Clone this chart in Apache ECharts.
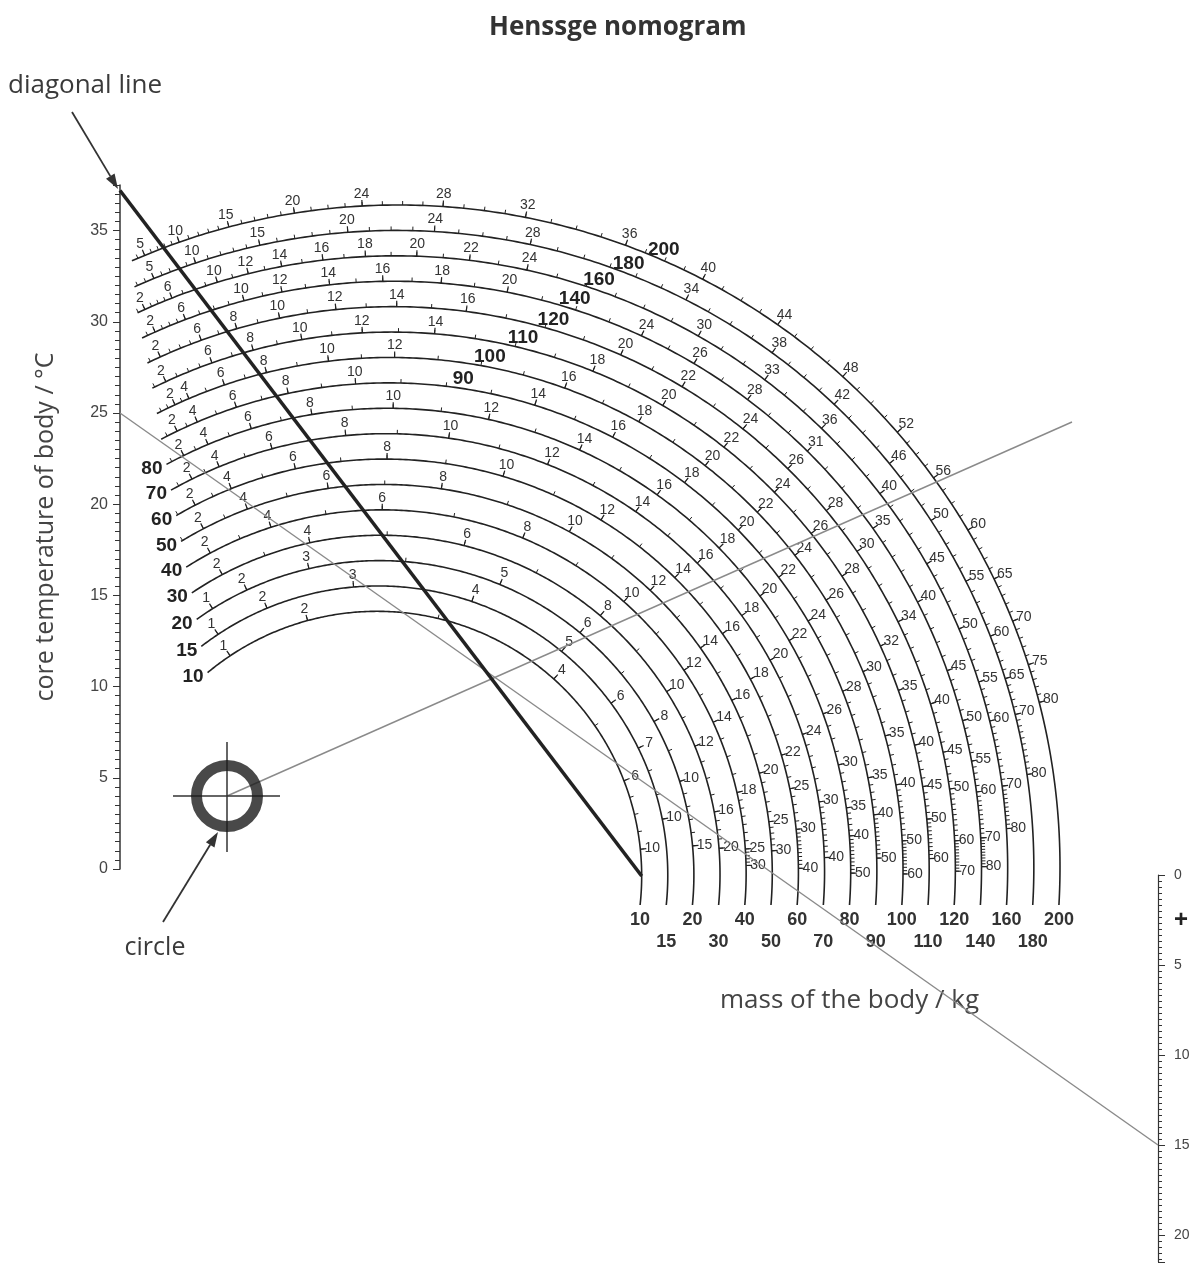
<!DOCTYPE html>
<html lang="en">
<head>
    <meta charset="UTF-8">
    <title>Henssge nomogram</title>
    <script src="https://cdn.jsdelivr.net/npm/echarts@6/dist/echarts.min.js"></script>
    <style>
        *{
            margin: 0;
            padding: 0;
        }
        body{
            background-color: #fff;
            overflow: hidden;
        }
        #main{
            width: 1193px;
            height: 1263px;
        }
    </style>
</head>
<body>
<div id="main"></div>

<script>
    // body mass of each arc (kg)
    var masses = [10, 15, 20, 30, 40, 50, 60, 70, 80, 90, 100, 110, 120, 140, 160, 180, 200];
    // angle (deg) where each arc begins on the left side
    var arcStart = [129.8, 127.7, 125.6, 123.9, 122.6, 121.4, 120.3, 119.4, 118.5, 117.8, 117.05, 116.4, 115.85, 115.4, 114.9, 114.3, 113.7];
    // angle of the bold mass label sitting on the arc (90 kg and up)
    var massLabelAngle = [null, null, null, null, null, null, null, null, null, 81.4, 79.0, 76.1, 73.7, 72.4, 70.9, 69.0, 66.7];

    // hour marks along each arc: [hours, angle deg]
    var h10 = [[1, 123.7], [2, 105.2], [4, 48.1], [6, 21.1], [10, 5.8]];
    var h15 = [[1, 123.6], [2, 112.6], [3, 94.9], [4, 71.15], [5, 50.7], [6, 36.5], [7, 26.1], [10, 11.2]];
    var h20 = [[1, 122.1], [2, 115.0], [3, 103.0], [5, 67.5], [6, 50.4], [8, 29.2], [10, 17.3], [15, 5.3]];
    var h30 = [[2, 117.9], [4, 102.1], [6, 75.8], [8, 49.7], [10, 32.6], [12, 22.2], [16, 10.6], [20, 4.4]];
    var h40 = [[2, 118.2], [4, 107.8], [6, 90.0], [8, 67.3], [10, 48.4], [12, 34.0], [14, 24.6], [18, 12.9], [25, 3.9], [30, 1.3]];
    var h50 = [[2, 117.6], [4, 110.5], [6, 98.2], [8, 81.45], [10, 61.45], [12, 46.7], [14, 35.4], [16, 26.4], [20, 14.9], [25, 7.6], [30, 3.3]];
    var h60 = [[2, 117.3], [4, 111.8], [6, 102.5], [8, 89.7], [10, 73.4], [12, 58.5], [14, 45.5], [16, 35.3], [18, 27.9], [22, 16.5], [25, 11.7], [30, 6.0], [40, 0.6]];
    var h70 = [[2, 116.3], [4, 112.4], [6, 105.1], [8, 95.3], [10, 81.8], [12, 68.4], [14, 55.3], [16, 44.8], [18, 35.8], [20, 28.9], [24, 18.3], [30, 9.2], [40, 1.9]];
    var h80 = [[2, 116.1], [4, 112.8], [6, 107.1], [8, 99.4], [10, 89.3], [12, 77.4], [14, 65.5], [16, 54.4], [18, 44.3], [20, 36.5], [22, 29.9], [26, 19.9], [30, 13.3], [35, 7.9], [40, 4.4], [50, -0.2]];
    var h90 = [[2, 115.7], [4, 113.1], [6, 108.2], [8, 101.9], [10, 93.9], [14, 72.6], [16, 62.7], [18, 52.7], [20, 44.3], [22, 37.0], [24, 30.8], [28, 21.6], [35, 11.0], [40, 6.6], [50, 1.5]];
    var h100 = [[2, 114.8], [4, 113.1], [6, 108.85], [8, 103.95], [10, 96.9], [12, 89.5], [16, 70.1], [18, 61.0], [20, 52.1], [22, 44.3], [24, 37.9], [26, 31.8], [30, 22.8], [35, 15.2], [40, 9.6], [50, 3.3], [60, -0.4]];
    var h110 = [[2, 114.8], [6, 109.5], [8, 104.9], [10, 99.6], [12, 93.1], [14, 85.4], [18, 68.0], [20, 59.7], [22, 51.8], [24, 44.6], [26, 38.7], [28, 33.1], [32, 24.6], [35, 19.5], [40, 13.4], [45, 8.9], [50, 5.4], [60, 1.2]];
    var h120 = [[2, 114.4], [6, 109.9], [8, 106.1], [10, 101.6], [12, 95.8], [14, 89.6], [16, 82.5], [20, 66.1], [22, 59.05], [24, 51.5], [26, 45.4], [28, 39.6], [30, 34.4], [34, 26.1], [40, 17.1], [45, 12.0], [50, 8.2], [60, 2.9], [70, -0.2]];
    var h140 = [[2, 114.0], [6, 110.8], [10, 104.8], [12, 101.0], [14, 96.3], [16, 91.1], [18, 85.4], [20, 78.9], [24, 65.1], [26, 59.3], [28, 53.0], [31, 45.3], [35, 35.4], [40, 27.0], [45, 19.7], [50, 14.6], [55, 10.55], [60, 7.5], [70, 3.0], [80, 0.2]];
    var h160 = [[2, 114.15], [6, 111.4], [10, 106.9], [12, 103.9], [14, 100.7], [16, 96.8], [18, 92.8], [20, 88.0], [22, 83.05], [24, 77.6], [30, 60.35], [33, 52.9], [36, 45.9], [40, 37.7], [45, 29.8], [50, 23.0], [55, 17.7], [60, 13.9], [70, 7.7], [80, 3.7]];
    var h180 = [[5, 112.4], [10, 108.4], [15, 102.4], [20, 94.4], [24, 86.6], [28, 77.9], [34, 63.0], [38, 53.9], [42, 46.65], [46, 39.35], [50, 33.0], [55, 26.7], [60, 21.3], [65, 17.25], [70, 13.9], [80, 8.4]];
    var h200 = [[5, 112.5], [10, 109.3], [15, 104.8], [20, 99.0], [24, 93.1], [28, 86.1], [32, 78.9], [36, 69.9], [40, 62.6], [44, 55.0], [48, 47.8], [52, 41.05], [56, 36.0], [60, 30.6], [65, 25.8], [70, 21.8], [75, 17.8], [80, 14.4]];
    var hourMarks = [h10, h15, h20, h30, h40, h50, h60, h70, h80, h90, h100, h110, h120, h140, h160, h180, h200];

    // readings used for the example lines
    var tempTop = 37.2;     // diagonal line starts here
    var tempRead = 25;      // grey reading line, temperature end
    var rightRead = 15;     // grey reading line, right scale end
    var plusAt = 2.5;       // "+" mark on the right scale

    var W = 1193, H = 1263;
    var BASE_Y = 905;        // arcs run down to here
    var TEMP_X = 120, RIGHT_X = 1158;
    var circleAt = [227, 796];
    var FONT = '"Liberation Sans", Arial, sans-serif';

    var chart = echarts.init(document.getElementById('main'));

    var hidden = {show: false};
    chart.setOption({
        backgroundColor: '#fff',
        animation: false,
        title: {
            text: 'Henssge nomogram',
            left: 484,
            top: 10,
            textStyle: {fontSize: 26, fontWeight: 'bold', color: '#333', fontFamily: '"Open Sans"'}
        },
        grid: [
            {left: 0, top: 0, width: W, height: H},
            {left: TEMP_X, top: 185, width: 10, height: 684},
            {left: 627, top: 860, width: 445, height: 48},
            {left: RIGHT_X, top: 875, width: 30, height: 387}
        ],
        xAxis: [
            {gridIndex: 0, type: 'value', min: 0, max: W, show: false},
            {gridIndex: 1, type: 'value', show: false},
            {
                gridIndex: 2, type: 'category', data: masses.map(String), boundaryGap: true,
                axisLine: hidden, axisTick: hidden, splitLine: hidden,
                axisLabel: {
                    interval: 0, margin: 1, fontSize: 18, fontWeight: 'bold', color: '#333',
                    fontFamily: FONT, lineHeight: 22,
                    formatter: function (v, idx) { return idx % 2 ? '\n' + v : v; }
                },
                name: 'mass of the body / kg', nameLocation: 'middle', nameGap: 80,
                nameTextStyle: {fontSize: 26, color: '#444', fontFamily: '"Open Sans"'}
            },
            {gridIndex: 3, type: 'value', show: false}
        ],
        yAxis: [
            {gridIndex: 0, type: 'value', min: 0, max: H, inverse: true, show: false},
            {
                gridIndex: 1, type: 'value', min: 0, max: 37.5, interval: 5, position: 'left',
                axisLine: {show: true, lineStyle: {color: '#333', width: 1.5}},
                axisTick: {show: true, length: 7, lineStyle: {color: '#333'}},
                minorTick: {show: true, splitNumber: 10, length: 5, lineStyle: {color: '#333'}},
                splitLine: hidden,
                axisLabel: {color: '#444', fontSize: 16, margin: 12, fontFamily: FONT, showMaxLabel: false},
                name: 'core temperature of body / °C', nameLocation: 'middle', nameGap: 62, nameRotate: 90,
                nameTextStyle: {fontSize: 25, color: '#444', fontFamily: '"Open Sans"'}
            },
            {gridIndex: 2, type: 'value', show: false},
            {
                gridIndex: 3, type: 'value', min: 0, max: 21.5, interval: 5, inverse: true, position: 'left',
                axisLine: {show: true, lineStyle: {color: '#333', width: 1.2}},
                axisTick: {show: true, inside: true, length: 7, lineStyle: {color: '#333'}},
                minorTick: {show: true, splitNumber: 15, length: 4, lineStyle: {color: '#333'}},
                splitLine: hidden,
                axisLabel: {inside: true, margin: 16, color: '#444', fontSize: 14, fontFamily: FONT, showMaxLabel: false}
            }
        ]
    });

    // arc geometry from the mass scale
    var centers = masses.map(function (m, i) {
        var t = i / (masses.length - 1);
        return [377 + 21 * t, 876 - 9 * t];
    });
    var radii = masses.map(function (m, i) {
        var px = chart.convertToPixel({xAxisIndex: 2}, i);
        return Math.hypot(px - centers[i][0], BASE_Y - centers[i][1]);
    });
    var arcEnd = radii.map(function (r, i) {
        return -Math.asin((BASE_Y - centers[i][1]) / r) * 180 / Math.PI;
    });
    var tempPx = function (v) { return chart.convertToPixel({yAxisIndex: 1}, v); };
    var rightPx = function (v) { return chart.convertToPixel({yAxisIndex: 3}, v); };

    function hourAngle(marks, h) {
        var k = 0;
        while (k < marks.length - 2 && h > marks[k + 1][0]) k++;
        var a = marks[k], b = marks[k + 1];
        return a[1] + (h - a[0]) * (b[1] - a[1]) / (b[0] - a[0]);
    }

    function renderArc(params, api) {
        var i = params.dataIndex;
        var c = centers[i], r = radii[i];
        var pt = function (deg, rr) {
            var a = deg * Math.PI / 180;
            return api.coord([c[0] + rr * Math.cos(a), c[1] - rr * Math.sin(a)]);
        };
        var ink = '#222';
        var kids = [];
        var pts = [];
        for (var a = arcStart[i]; a > arcEnd[i]; a -= 0.4) pts.push(pt(a, r));
        pts.push(pt(arcEnd[i], r));
        kids.push({type: 'polyline', shape: {points: pts}, style: {stroke: ink, lineWidth: 1.6, fill: null}});

        var marks = hourMarks[i];
        // hourly ticks, carried back to the start of the arc
        var rate = (marks[1][1] - marks[0][1]) / (marks[1][0] - marks[0][0]);
        var hFrom = Math.ceil(marks[0][0] + (arcStart[i] - marks[0][1]) / rate);
        var hTo = marks[marks.length - 1][0];
        for (var h = hFrom; h <= hTo; h++) {
            var ang = hourAngle(marks, h);
            if (ang > arcStart[i]) continue;
            var p0 = pt(ang, r), p1 = pt(ang, r + 4);
            kids.push({type: 'line', shape: {x1: p0[0], y1: p0[1], x2: p1[0], y2: p1[1]}, style: {stroke: ink, lineWidth: 1}});
        }
        marks.forEach(function (m) {
            var q0 = pt(m[1], r), q1 = pt(m[1], r + 6), ql = pt(m[1], r + 12);
            kids.push({type: 'line', shape: {x1: q0[0], y1: q0[1], x2: q1[0], y2: q1[1]}, style: {stroke: ink, lineWidth: 1.2}});
            kids.push({
                type: 'text',
                style: {
                    text: String(m[0]), x: ql[0], y: ql[1], fill: '#333', font: '14px ' + FONT,
                    align: 'center', verticalAlign: 'middle', textAlign: 'center', textVerticalAlign: 'middle'
                }
            });
        });

        // bold mass label
        var lp, al;
        if (massLabelAngle[i] !== null) {
            lp = pt(massLabelAngle[i], r + 10);
            al = 'center';
        } else {
            lp = pt(arcStart[i], r);
            lp = [lp[0] - 4, lp[1] + 4];
            al = 'right';
        }
        kids.push({
            type: 'text',
            style: {
                text: String(masses[i]), x: lp[0], y: lp[1], fill: '#222', font: 'bold 19px ' + FONT,
                align: al, verticalAlign: 'middle', textAlign: al, textVerticalAlign: 'middle'
            }
        });
        return {type: 'group', children: kids};
    }

    function seg(points, color, width, z) {
        return {
            type: 'line', xAxisIndex: 0, yAxisIndex: 0, data: points, symbol: 'none',
            silent: true, z: z, lineStyle: {color: color, width: width}
        };
    }

    function arrow(from, to) {
        var dx = to[0] - from[0], dy = to[1] - from[1];
        var len = Math.hypot(dx, dy), ux = dx / len, uy = dy / len;
        var bx = to[0] - ux * 15, by = to[1] - uy * 15;
        return [
            {type: 'line', shape: {x1: from[0], y1: from[1], x2: bx, y2: by}, style: {stroke: '#333', lineWidth: 1.8}, z: 10},
            {
                type: 'polygon', z: 10,
                shape: {points: [to, [bx - uy * 5, by + ux * 5], [bx + uy * 5, by - ux * 5]]},
                style: {fill: '#333'}
            }
        ];
    }

    var endOfDiagonal = [centers[0][0] + radii[0], centers[0][1]];

    chart.setOption({
        series: [
            {
                type: 'custom', xAxisIndex: 0, yAxisIndex: 0, z: 2, silent: true, clip: false,
                data: masses.map(function (m, i) { return [i, m]; }),
                renderItem: renderArc
            },
            seg([[TEMP_X, tempPx(tempRead)], [RIGHT_X, rightPx(rightRead)]], '#8a8a8a', 1.4, 3),
            seg([circleAt, [1072, 422]], '#8a8a8a', 1.4, 3),
            seg([[TEMP_X, tempPx(tempTop)], endOfDiagonal], '#222', 3.6, 4),
            seg([[circleAt[0] - 54, circleAt[1]], [circleAt[0] + 53, circleAt[1]]], '#333', 1.5, 5),
            seg([[circleAt[0], circleAt[1] - 54], [circleAt[0], circleAt[1] + 56]], '#333', 1.5, 5),
            {
                type: 'scatter', xAxisIndex: 0, yAxisIndex: 0, z: 6, silent: true,
                data: [circleAt], symbol: 'circle', symbolSize: 61,
                itemStyle: {color: 'rgba(0,0,0,0)', borderColor: '#1c1c1c', borderWidth: 11}
            }
        ],
        graphic: [].concat(
            arrow([72, 112], [118, 189]),
            arrow([163, 922], [218, 832]),
            [
                {
                    type: 'text', x: 8, y: 86,
                    style: {text: 'diagonal line', fill: '#3a3a3a', font: '26px "Open Sans"', align: 'left', verticalAlign: 'middle', textAlign: 'left', textVerticalAlign: 'middle'}
                },
                {
                    type: 'text', x: 155, y: 948,
                    style: {text: 'circle', fill: '#3a3a3a', font: '25px "Open Sans"', align: 'center', verticalAlign: 'middle', textAlign: 'center', textVerticalAlign: 'middle'}
                },
                {
                    type: 'text', x: 1181, y: rightPx(plusAt),
                    style: {text: '+', fill: '#222', font: 'bold 24px ' + FONT, align: 'center', verticalAlign: 'middle', textAlign: 'center', textVerticalAlign: 'middle'}
                }
            ]
        )
    });

    window.onresize = chart.resize;
</script>
</body>
</html>
